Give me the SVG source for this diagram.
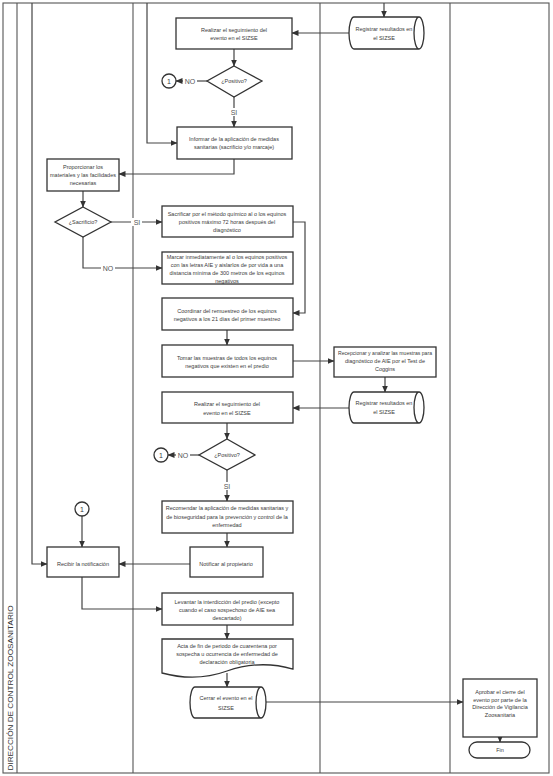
<svg xmlns="http://www.w3.org/2000/svg" width="553" height="776" viewBox="0 0 553 776">
<defs>
<marker id="ah" markerUnits="userSpaceOnUse" markerWidth="7" markerHeight="6" refX="6.5" refY="3" orient="auto"><path d="M0,0 L7,3 L0,6 Z" fill="#333"/></marker>
<style>
.lane{fill:none;stroke:#555;stroke-width:1.1}
.box{fill:#fff;stroke:#333;stroke-width:1.3}
.c{fill:none;stroke:#444;stroke-width:1.2;marker-end:url(#ah)}
text{font-family:"Liberation Sans",Arial,sans-serif;font-size:5.5px;fill:#3a3a3a;text-anchor:middle}
.lbl{font-size:7px;fill:#555}
.lb{fill:#fff;stroke:none}
</style>
</defs>
<rect width="553" height="776" fill="#fff"/>
<g id="lanes">
<rect class="lane" x="3" y="3" width="546" height="770"/>
<line class="lane" x1="17" y1="3" x2="17" y2="773"/>
<line class="lane" x1="133" y1="3" x2="133" y2="773"/>
<line class="lane" x1="320" y1="3" x2="320" y2="773"/>
<line class="lane" x1="450" y1="3" x2="450" y2="773"/>
<text transform="translate(12.5,688) rotate(-90)" style="font-size:8px;fill:#333" textLength="165" lengthAdjust="spacingAndGlyphs">DIRECCIÓN DE CONTROL ZOOSANITARIO</text>
</g>
<g id="connectors">
<path class="c" d="M384,3 V17"/>
<path class="c" d="M349,33 H292"/>
<path class="c" d="M234,49 V66"/>
<path class="c" d="M207,81 H176"/>
<path class="c" d="M234,97 V127"/>
<path class="c" d="M147,3 V143 H177"/>
<path class="c" d="M234,159 V174 H119"/>
<path class="c" d="M83,191 V207"/>
<path class="c" d="M111,222 H162"/>
<path class="c" d="M83,237 V268 H162"/>
<path class="c" d="M293,222 H305 V313 H293"/>
<path class="c" d="M227,330 V345"/>
<path class="c" d="M293,361 H334"/>
<path class="c" d="M385,377 V392"/>
<path class="c" d="M349,408 H293"/>
<path class="c" d="M227,423 V439"/>
<path class="c" d="M199,455 H168"/>
<path class="c" d="M227,470 V501"/>
<path class="c" d="M227,533 V547"/>
<path class="c" d="M190,564 H119"/>
<path class="c" d="M32,3 V564 H47"/>
<path class="c" d="M82,516 V547"/>
<path class="c" d="M82,577 V609 H162"/>
<path class="c" d="M227,625 V639"/>
<path class="c" d="M227,673 V687"/>
<path class="c" d="M266,702 H463"/>
<path class="c" d="M500,737 V742"/>
<rect class="lb" x="183" y="77" width="14" height="8"/><text class="lbl" x="190" y="83.5">NO</text>
<rect class="lb" x="229" y="108" width="11" height="8"/><text class="lbl" x="234" y="114.5">SI</text>
<rect class="lb" x="131" y="218" width="11" height="8"/><text class="lbl" x="137" y="224.5">SI</text>
<rect class="lb" x="101" y="264" width="14" height="8"/><text class="lbl" x="108" y="270.5">NO</text>
<rect class="lb" x="176" y="451" width="14" height="8"/><text class="lbl" x="183" y="457.5">NO</text>
<rect class="lb" x="222" y="482" width="11" height="8"/><text class="lbl" x="227" y="488.5">SI</text>
</g>
<g id="n1"><rect class="box" x="176" y="18" width="116" height="31"/><text x="234" y="32">Realizar el seguimiento del</text><text x="234" y="40">evento en el SIZSE</text></g>
<g id="n2"><path class="box" d="M354,17 H419 A5,16 0 0 1 419,49 H354 A5,16 0 0 1 354,17 Z M419,17 A5,16 0 0 0 419,49"/><text x="384" y="31">Registrar resultados en</text><text x="384" y="40">el SIZSE</text></g>
<g id="n3"><path class="box" d="M234,66 L262,81 L234,97 L207,81 Z"/><text x="234" y="83">¿Positivo?</text></g>
<g id="n4"><circle class="box" cx="169" cy="81" r="7"/><text x="169" y="83.5" style="font-size:7px">1</text></g>
<g id="n5"><rect class="box" x="177" y="127" width="115" height="32"/><text x="234" y="141">Informar de la aplicación de medidas</text><text x="234" y="149">sanitarias (sacrificio y/o marcaje)</text></g>
<g id="n6"><rect class="box" x="47" y="159" width="72" height="32"/><text x="83" y="169">Proporcionar los</text><text x="83" y="177" textLength="66" lengthAdjust="spacingAndGlyphs">materiales y las facilidades</text><text x="83" y="185">necesarias</text></g>
<g id="n7"><path class="box" d="M83,207 L111,222 L83,237 L55,222 Z"/><text x="83" y="224">¿Sacrificio?</text></g>
<g id="n8"><rect class="box" x="162" y="206" width="131" height="31"/><text x="227" y="216">Sacrificar por el método químico al o los equinos</text><text x="227" y="224">positivos máximo 72 horas después del</text><text x="227" y="232">diagnóstico</text></g>
<g id="n9"><rect class="box" x="162" y="252" width="131" height="32"/><text x="227" y="259">Marcar inmediatamente al o los equinos positivos</text><text x="227" y="267">con las letras AIE y aislarlos de por vida a una</text><text x="227" y="275">distancia mínima de 300 metros de los equinos</text><text x="227" y="283">negativos</text></g>
<g id="n10"><rect class="box" x="162" y="298" width="131" height="32"/><text x="227" y="313">Coordinar del remuestreo de los equinos</text><text x="227" y="321">negativos a los 21 días del primer muestreo</text></g>
<g id="n11"><rect class="box" x="162" y="345" width="131" height="32"/><text x="227" y="360">Tomar las muestras de todos los equinos</text><text x="227" y="368">negativos que existen en el predio</text></g>
<g id="n12"><rect class="box" x="334" y="347" width="102" height="30"/><text x="385" y="355" textLength="94" lengthAdjust="spacingAndGlyphs">Recepcionar y analizar las muestras para</text><text x="385" y="363">diagnóstico de AIE por el Test de</text><text x="385" y="371">Coggins</text></g>
<g id="n13"><path class="box" d="M354,392 H419 A5,15.5 0 0 1 419,423 H354 A5,15.5 0 0 1 354,392 Z M419,392 A5,15.5 0 0 0 419,423"/><text x="384" y="405">Registrar resultados en</text><text x="384" y="414">el SIZSE</text></g>
<g id="n14"><rect class="box" x="162" y="392" width="131" height="31"/><text x="227" y="406">Realizar el seguimiento del</text><text x="227" y="415">evento en el SIZSE</text></g>
<g id="n15"><path class="box" d="M227,439 L255,455 L227,470 L199,455 Z"/><text x="227" y="457">¿Positivo?</text></g>
<g id="n16"><circle class="box" cx="161" cy="455" r="7"/><text x="161" y="457.5" style="font-size:7px">1</text></g>
<g id="n17"><rect class="box" x="162" y="501" width="131" height="32"/><text x="227" y="510">Recomendar la aplicación de medidas sanitarias y</text><text x="227" y="519">de bioseguridad para la prevención y control de la</text><text x="227" y="527">enfermedad</text></g>
<g id="n18"><rect class="box" x="190" y="547" width="73" height="30"/><text x="226" y="566">Notificar al propietario</text></g>
<g id="n19"><circle class="box" cx="82" cy="509" r="7"/><text x="82" y="511.5" style="font-size:7px">1</text></g>
<g id="n20"><rect class="box" x="47" y="547" width="72" height="30"/><text x="83" y="566">Recibir la notificación</text></g>
<g id="n21"><rect class="box" x="162" y="593" width="131" height="32"/><text x="227" y="604">Levantar la interdicción del predio (excepto</text><text x="227" y="612">cuando el caso sospechoso de AIE sea</text><text x="227" y="620">descartado)</text></g>
<g id="n22"><path class="box" d="M162,639 H293 V669 C272,663 250,663 227,671 C205,679 184,679 162,673 Z"/><text x="227" y="648">Acta de fin de periodo de cuarentena por</text><text x="227" y="656">sospecha u ocurrencia de enfermedad de</text><text x="227" y="664">declaración obligatoria</text></g>
<g id="n23"><path class="box" d="M195,687 H261 A5,15.5 0 0 1 261,718 H195 A5,15.5 0 0 1 195,687 Z M261,687 A5,15.5 0 0 0 261,718"/><text x="226" y="700">Cerrar el evento en el</text><text x="226" y="710">SIZSE</text></g>
<g id="n24"><rect class="box" x="463" y="679" width="74" height="58"/><text x="500" y="694">Aprobar el cierre del</text><text x="500" y="701.5">evento por parte de la</text><text x="500" y="709">Dirección de Vigilancia</text><text x="500" y="717">Zoosanitaria</text></g>
<g id="n25"><rect class="box" x="469" y="742" width="61" height="16" rx="8" ry="8"/><text x="500" y="752">Fin</text></g>
</svg>
